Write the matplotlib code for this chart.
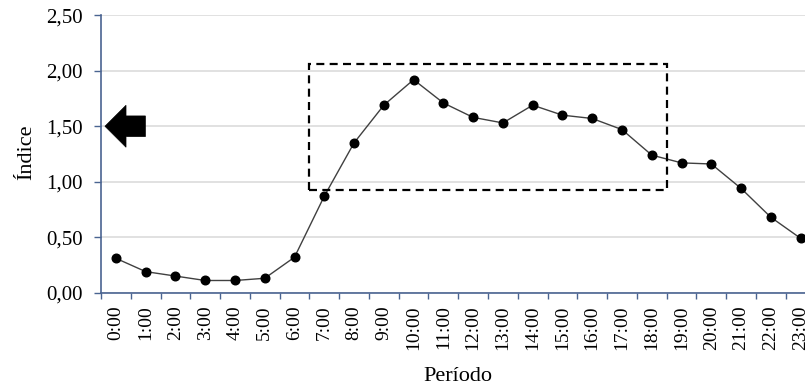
import matplotlib
matplotlib.use("Agg")
import matplotlib.pyplot as plt
from matplotlib.patches import Rectangle, Polygon

plt.rcParams['font.family'] = ['Liberation Serif', 'DejaVu Serif']

horas = [f"{h}:00" for h in range(24)]
indice = [0.31, 0.19, 0.15, 0.11, 0.11, 0.13, 0.32, 0.87, 1.35, 1.69,
          1.92, 1.71, 1.58, 1.53, 1.69, 1.60, 1.57, 1.47, 1.24, 1.17,
          1.16, 0.94, 0.68, 0.49]
y_ticks = [0.0, 0.5, 1.0, 1.5, 2.0, 2.5]
y_labels = ["0,00", "0,50", "1,00", "1,50", "2,00", "2,50"]

# highlighted window (hours 7:00 to 18:00)
destaque_x = (6.5, 18.5)
destaque_y = (0.925, 2.058)

spine_color = "#4a6491"

fig = plt.figure(figsize=(8.05, 3.89), dpi=100)
ax = fig.add_axes([101 / 805, 1 - 292.7 / 389, (815.5 - 101) / 805, (292.7 - 15.3) / 389])

x = list(range(len(horas)))
ax.plot(x, indice, color="#404040", lw=1.0, marker="o", markersize=6.2,
        markerfacecolor="black", markeredgecolor="black", zorder=3, clip_on=False)

ax.set_xlim(-0.5, 23.5)
ax.set_ylim(0, 2.5)
ax.set_yticks(y_ticks)
ax.set_yticklabels(y_labels, fontsize=15)
ax.set_xticks(x)
ax.set_xticklabels(horas, rotation=90, fontsize=14)
ax.tick_params(axis="x", length=0, pad=9)
ax.set_xticks([i - 0.5 for i in range(25)], minor=True)
ax.tick_params(axis="x", which="minor", length=4.5, width=1.0, color=spine_color, direction="out")
ax.tick_params(axis="y", length=5, width=1.0, color=spine_color, direction="out", pad=8)

ax.grid(axis="y", color="#dcdcdc", lw=1.2)
ax.set_axisbelow(True)
for s in ["top", "right"]:
    ax.spines[s].set_visible(False)
for s in ["left", "bottom"]:
    ax.spines[s].set_color(spine_color)
    ax.spines[s].set_linewidth(1.2)

ax.set_ylabel("Índice", fontsize=16)
ax.yaxis.set_label_coords(-(101 - 27) / (815.5 - 101), (292.7 - 152) / 277.4)
ax.yaxis.label.set_va("center")
ax.set_xlabel("Período", fontsize=16)
ax.xaxis.set_label_coords((458 - 101) / (815.5 - 101), -(376.7 - 292.7) / 277.4)
ax.xaxis.label.set_va("center")

ax.add_patch(Rectangle((destaque_x[0], destaque_y[0]), destaque_x[1] - destaque_x[0],
                       destaque_y[1] - destaque_y[0], fill=False, edgecolor="black",
                       lw=1.6, linestyle=(0, (3.6, 2.4)), zorder=4))

# left-pointing arrow at the 1,50 level
seta = [(-0.366, 1.5), (0.34, 1.689), (0.34, 1.593), (0.99, 1.593),
        (0.99, 1.407), (0.34, 1.407), (0.34, 1.311)]
ax.add_patch(Polygon(seta, closed=True, facecolor="black", edgecolor="black", lw=0.5,
                     zorder=5, clip_on=False))

fig.savefig("out.png", dpi=100)
